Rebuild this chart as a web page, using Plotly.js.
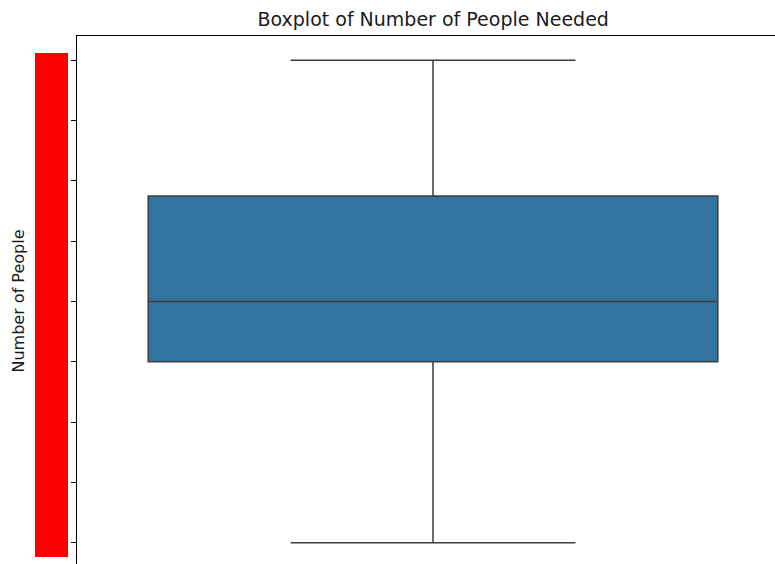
<!DOCTYPE html>
<html>
<head>
<meta charset="utf-8">
<script src="https://cdn.plot.ly/plotly-3.0.1.min.js"></script>
<style>
  html, body { margin: 0; padding: 0; overflow: hidden; background: #ffffff; }
  #chart { position: absolute; left: 0; top: 0; width: 800px; height: 580px; }
</style>
</head>
<body>
<div id="chart"></div>
<script>
// Summary statistics of the number of people needed
const category = ["People Needed"];
const lowerWhisker = [1];
const q1 = [4];
const median = [5];
const q3 = [6.75];
const upperWhisker = [9];
const tickValues = [1, 2, 3, 4, 5, 6, 7, 8, 9];
const tickLabels = ["1", "2", "3", "4", "5", "6", "7", "8", "9"];

const trace = {
  type: "box",
  x: [0],
  name: category[0],
  lowerfence: lowerWhisker,
  q1: q1,
  median: median,
  q3: q3,
  upperfence: upperWhisker,
  width: 0.8,
  whiskerwidth: 0.5,
  fillcolor: "#3274a1",
  line: { color: "#3d3d3d", width: 1.5 },
  boxpoints: false,
  hoverinfo: "skip",
  showlegend: false
};

const layout = {
  width: 800,
  height: 580,
  margin: { l: 77, r: 11, t: 36, b: 13 },
  paper_bgcolor: "#ffffff",
  plot_bgcolor: "#ffffff",
  font: { family: "DejaVu Sans", color: "#000000" },
  title: {
    text: "Boxplot of Number of People Needed",
    font: { family: "DejaVu Sans", size: 19, color: "#1a1a1a" },
    x: 0.5415,
    xanchor: "center",
    y: 1 - 19 / 580,
    yanchor: "middle"
  },
  xaxis: {
    range: [-0.5, 0.5],
    showgrid: false,
    zeroline: false,
    showticklabels: false,
    ticks: "",
    showline: true,
    mirror: true,
    linecolor: "#000000",
    linewidth: 1
  },
  yaxis: {
    range: [0.6, 9.4],
    tickvals: tickValues,
    ticktext: tickLabels,
    ticks: "outside",
    ticklen: 5,
    tickwidth: 1,
    tickcolor: "#000000",
    tickfont: { family: "DejaVu Sans", size: 13.5, color: "#000000" },
    showgrid: false,
    zeroline: false,
    showline: true,
    mirror: true,
    linecolor: "#000000",
    linewidth: 1,
    automargin: false
  },
  annotations: [
    {
      // vertical axis title
      text: "Number of People",
      xref: "paper",
      yref: "paper",
      x: (18 - 77) / 712,
      y: 0.5,
      xanchor: "center",
      yanchor: "middle",
      textangle: -90,
      showarrow: false,
      font: { family: "DejaVu Sans", size: 16, color: "#1a1a1a" }
    }
  ],
  shapes: [
    {
      // red band over the value labels of the vertical axis
      type: "rect",
      xref: "paper",
      yref: "paper",
      x0: (35 - 77) / 712,
      x1: (68 - 77) / 712,
      y0: (567 - 557) / 531,
      y1: (567 - 53) / 531,
      fillcolor: "#ff0000",
      line: { width: 0 },
      layer: "above"
    }
  ]
};

Plotly.newPlot("chart", [trace], layout, { displayModeBar: false, staticPlot: true });
</script>
</body>
</html>
